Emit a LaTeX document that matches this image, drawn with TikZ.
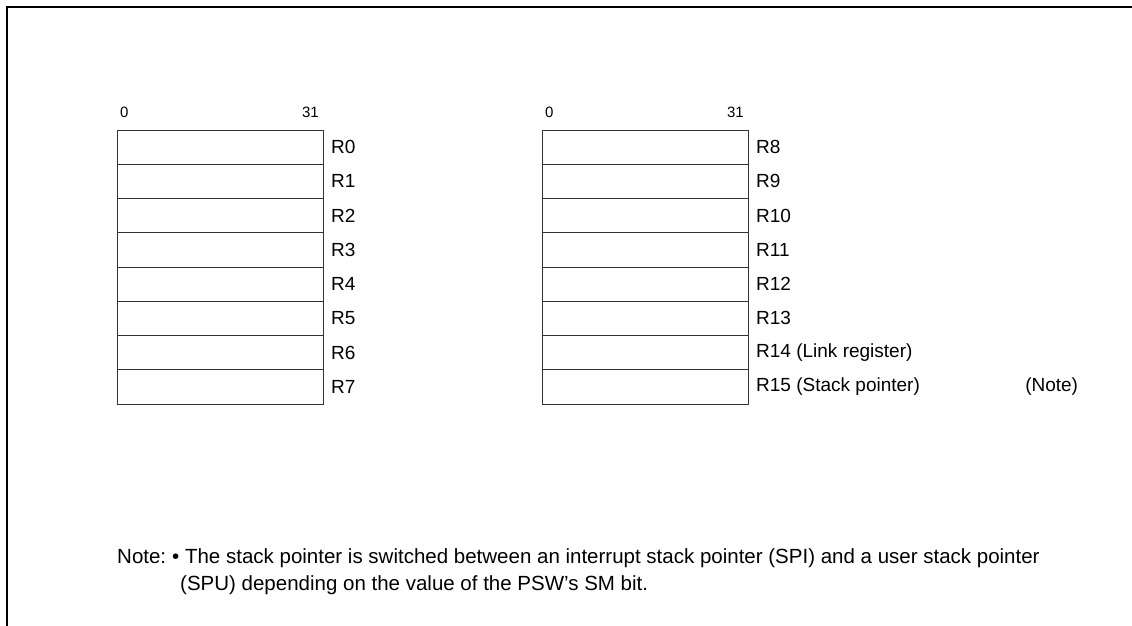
\documentclass[tikz,border=0pt]{standalone}
\usepackage{fontspec}
\setmainfont{Liberation Sans}
\usetikzlibrary{positioning}

\begin{document}
\begin{tikzpicture}[
    x=1pt, y=-1pt,
    every node/.style={font=\fontsize{19}{23}\selectfont},
    cell/.style={draw=black!80, line width=0.9pt, minimum width=206pt, minimum height=34.25pt, inner sep=0pt, outer sep=0pt},
    reg/.style={right=8pt, anchor=west, inner sep=0pt},
    bit/.style={font=\fontsize{15}{18}\selectfont, inner sep=0pt},
    txt/.style={font=\fontsize{20.5}{25}\selectfont, inner sep=0pt, anchor=base west},
    frame/.style={line width=2.6pt, black}
]
    \useasboundingbox (0,0) rectangle (1132,626);
    \draw[frame] (7,626) -- (7,7) -- (1132,7);

    % left bank
    \node[cell, anchor=north west] (r0) at (117,130) {};
    \node[cell, below=0pt of r0] (r1) {};
    \node[cell, below=0pt of r1] (r2) {};
    \node[cell, below=0pt of r2] (r3) {};
    \node[cell, below=0pt of r3] (r4) {};
    \node[cell, below=0pt of r4] (r5) {};
    \node[cell, below=0pt of r5] (r6) {};
    \node[cell, below=0pt of r6] (r7) {};

    \node[reg] (l0) at (r0.east) {R0};
    \node[reg] (l1) at (r1.east) {R1};
    \node[reg] (l2) at (r2.east) {R2};
    \node[reg] (l3) at (r3.east) {R3};
    \node[reg] (l4) at (r4.east) {R4};
    \node[reg] (l5) at (r5.east) {R5};
    \node[reg] (l6) at (r6.east) {R6};
    \node[reg] (l7) at (r7.east) {R7};

    \node[bit, anchor=south west] (lsb0) at ([xshift=3pt, yshift=12pt]r0.north west) {0};
    \node[bit, anchor=south east] (msb0) at ([xshift=-4pt, yshift=12pt]r0.north east) {31};

    % right bank
    \node[cell, anchor=north west] (r8) at (542,130) {};
    \node[cell, below=0pt of r8] (r9) {};
    \node[cell, below=0pt of r9] (r10) {};
    \node[cell, below=0pt of r10] (r11) {};
    \node[cell, below=0pt of r11] (r12) {};
    \node[cell, below=0pt of r12] (r13) {};
    \node[cell, below=0pt of r13] (r14) {};
    \node[cell, below=0pt of r14] (r15) {};

    \node[reg] (l8) at (r8.east) {R8};
    \node[reg] (l9) at (r9.east) {R9};
    \node[reg] (l10) at (r10.east) {R10};
    \node[reg] (l11) at (r11.east) {R11};
    \node[reg] (l12) at (r12.east) {R12};
    \node[reg] (l13) at (r13.east) {R13};
    \node[reg] (l14) at (r14.east) {R14 (Link register)};
    \node[reg] (l15) at (r15.east) {R15 (Stack pointer)};
    \node[inner sep=0pt, anchor=base west] (note15) at ([xshift=105pt]l15.base east) {(Note)};

    \node[bit, anchor=south west] (lsb8) at ([xshift=3pt, yshift=12pt]r8.north west) {0};
    \node[bit, anchor=south east] (msb8) at ([xshift=-4pt, yshift=12pt]r8.north east) {31};

    % note
    \node[txt] (notehead) at (117,563) {Note:};
    \node[txt] (noteline1) at (172,563)
        {\textbullet\ The stack pointer is switched between an interrupt stack pointer (SPI) and a user stack pointer};
    \node[txt] (noteline2) at (180,590) {(SPU) depending on the value of the PSW's SM bit.};
\end{tikzpicture}
\end{document}
